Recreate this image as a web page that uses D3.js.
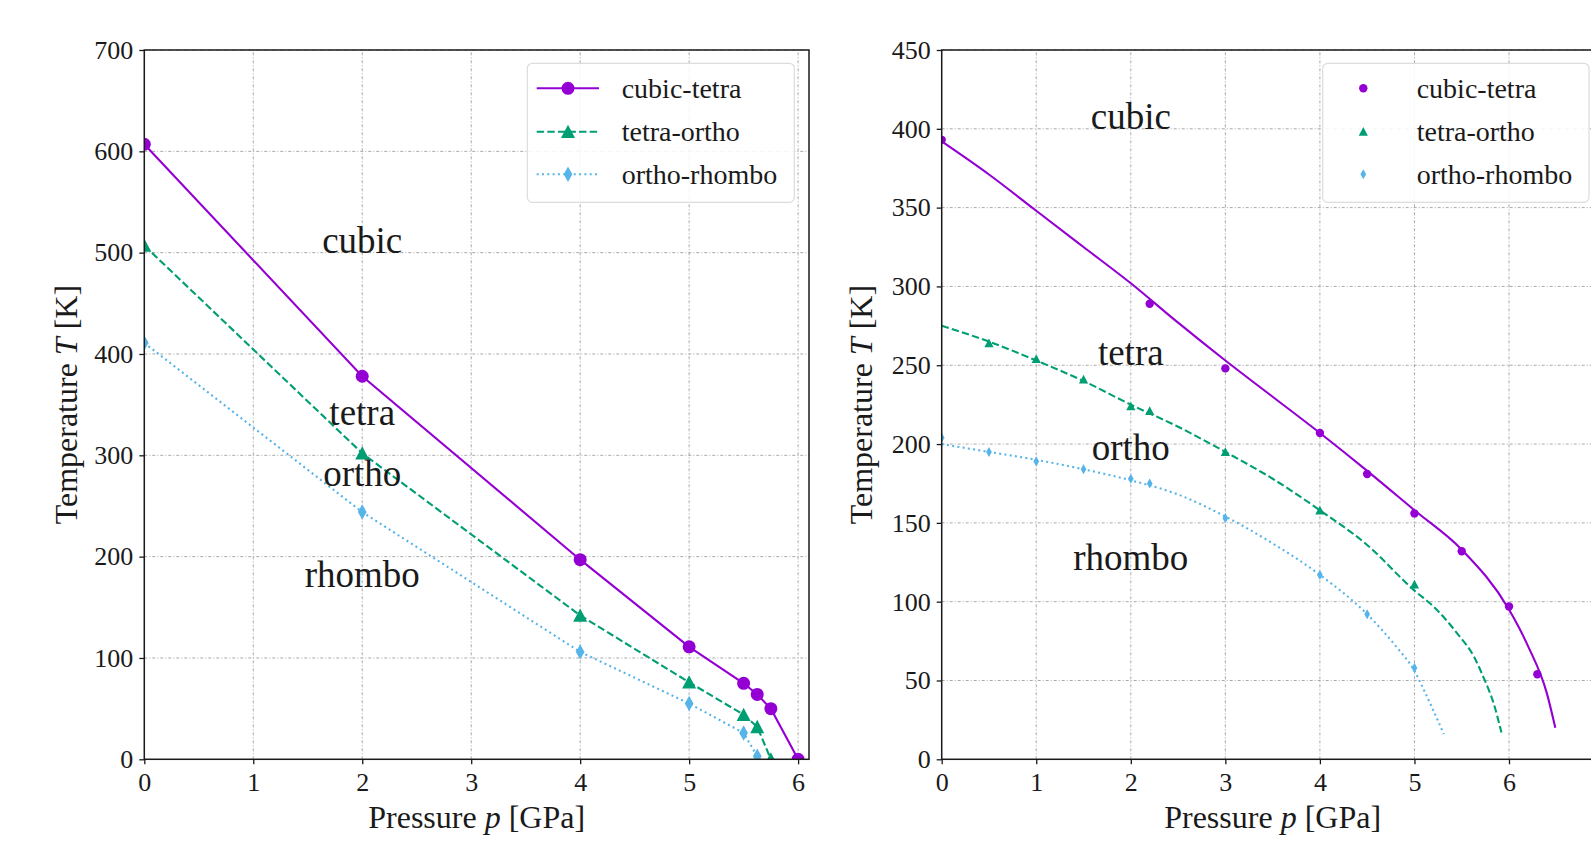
<!DOCTYPE html>
<html><head><meta charset="utf-8">
<script src="https://cdn.jsdelivr.net/npm/d3@7"></script>
<style>
body{margin:0;background:#fff}
svg{display:block}
text{font-family:"Liberation Serif","DejaVu Serif",serif;fill:#1a1a1a}
</style>
</head><body>
<svg id="c" width="1591" height="846"></svg>
<script>
// ---------- DATA ----------
const seriesNames = ["cubic-tetra", "tetra-ortho", "ortho-rhombo"];
const regionNames = ["cubic", "tetra", "ortho", "rhombo"];

// Left panel (markers joined by lines)
const leftXTicks = [0, 1, 2, 3, 4, 5, 6];
const leftYTicks = [0, 100, 200, 300, 400, 500, 600, 700];
const leftCubicP = [0, 2, 4, 5, 5.5, 5.625, 5.75, 6];
const leftCubicT = [607, 378, 197, 111, 75, 64, 50, 0];
const leftTetraP = [0, 2, 4, 5, 5.5, 5.625, 5.75];
const leftTetraT = [507, 302, 142, 76, 44, 32, 0];
const leftOrthoP = [0, 2, 4, 5, 5.5, 5.625];
const leftOrthoT = [411, 244, 106, 55, 26, 3];
const leftLabelP = [2, 2, 2, 2];
const leftLabelT = [500, 330, 270, 170];

// Right panel (scatter points + fitted curves)
const rightXTicks = [0, 1, 2, 3, 4, 5, 6];
const rightYTicks = [0, 50, 100, 150, 200, 250, 300, 350, 400, 450];
const rightCubicP = [0, 2.2, 3, 4, 4.5, 5, 5.5, 6, 6.3];
const rightCubicT = [393, 289, 248, 207, 181, 156, 132, 97, 54];
const rightTetraP = [0.5, 1, 1.5, 2, 2.2, 3, 4, 5];
const rightTetraT = [264, 254, 241, 224, 221, 195, 158, 111];
const rightOrthoP = [0, 0.5, 1, 1.5, 2, 2.2, 3, 4, 4.5, 5];
const rightOrthoT = [204, 195, 189, 184, 178, 175, 153, 117, 92, 58];
const fitCubicP = [0, 0.5, 1, 1.5, 2, 2.5, 3, 3.5, 4, 4.5, 5, 5.5, 6, 6.2, 6.4, 6.49];
const fitCubicT = [392, 371, 348, 325, 302, 277, 253, 230, 207, 183, 158, 133, 95, 72, 42, 20];
const fitTetraP = [0, 0.5, 1, 1.5, 2, 2.5, 3, 3.5, 4, 4.5, 5, 5.2, 5.45, 5.63, 5.73, 5.84, 5.92];
const fitTetraT = [275, 265, 253, 240, 225, 211, 195, 178, 158, 136, 107, 97, 80, 65, 52, 35, 17];
const fitOrthoP = [0, 0.5, 1, 1.5, 2, 2.5, 3, 3.5, 4, 4.5, 4.8, 5, 5.1, 5.2, 5.31];
const fitOrthoT = [200, 195, 190, 184, 177, 168, 154, 137, 117, 92, 72, 56, 44, 31, 16];
const rightLabelP = [2, 2, 2, 2];
const rightLabelT = [400, 250, 190, 120];

// ---------- STYLE ----------
const colors = ["#9400D3", "#009E73", "#56B4E9"];
const dashes = [null, "7.4,3.2", "2,3.3"];
const shapes = ["circle", "triangle", "diamond"];

const svg = d3.select("#c");
const TOP = 50, BOTTOM = 759.3;

function markerPath(shape, s) {
  const p = d3.path();
  if (shape === "circle") {
    p.moveTo(s, 0); p.arc(0, 0, s, 0, 2 * Math.PI);
  } else if (shape === "triangle") {
    p.moveTo(0, -s); p.lineTo(s, s * 0.9); p.lineTo(-s, s * 0.9); p.closePath();
  } else {
    const w = s * 0.62, h = s * 1.1;
    p.moveTo(0, -h); p.lineTo(w, 0); p.lineTo(0, h); p.lineTo(-w, 0); p.closePath();
  }
  return p.toString();
}

function drawPanel(cfg) {
  const g = svg.append("g");
  const x = d3.scaleLinear().domain(cfg.xDomain).range([cfg.left, cfg.right]);
  const y = d3.scaleLinear().domain(cfg.yDomain).range([BOTTOM, TOP]);

  // grid
  g.selectAll(null).data(cfg.xTicks).join("line")
    .attr("x1", d => x(d)).attr("x2", d => x(d)).attr("y1", BOTTOM).attr("y2", TOP)
    .attr("stroke", "#a8a8a8").attr("stroke-width", 1).attr("stroke-dasharray", "3,2,1,2");
  g.selectAll(null).data(cfg.yTicks).join("line")
    .attr("y1", d => y(d)).attr("y2", d => y(d)).attr("x1", cfg.left).attr("x2", cfg.right)
    .attr("stroke", "#a8a8a8").attr("stroke-width", 1).attr("stroke-dasharray", "3,2,1,2");

  const cid = "clip" + cfg.name;
  svg.append("clipPath").attr("id", cid).append("rect")
    .attr("x", cfg.left).attr("y", TOP).attr("width", cfg.right - cfg.left).attr("height", BOTTOM - TOP);
  const dg = g.append("g").attr("clip-path", `url(#${cid})`);

  const line = d3.line().x(d => x(d[0])).y(d => y(d[1]));
  if (cfg.curve) line.curve(d3.curveMonotoneX);

  cfg.lines.forEach((s, i) => {
    dg.append("path").datum(d3.zip(s[0], s[1])).attr("d", line)
      .attr("fill", "none").attr("stroke", colors[i]).attr("stroke-width", 2.1)
      .attr("stroke-dasharray", dashes[i]);
  });
  cfg.points.forEach((s, i) => {
    dg.selectAll(null).data(d3.zip(s[0], s[1])).join("path")
      .attr("transform", d => `translate(${x(d[0])},${y(d[1])})`)
      .attr("d", markerPath(shapes[i], cfg.msize[i]))
      .attr("fill", colors[i]);
  });

  // region labels
  g.selectAll(null).data(d3.zip(regionNames, cfg.labelP, cfg.labelT)).join("text")
    .attr("x", d => x(d[1])).attr("y", d => y(d[2]))
    .attr("text-anchor", "middle").attr("font-size", 37).text(d => d[0]);

  // spines
  g.append("rect").attr("x", cfg.left).attr("y", TOP)
    .attr("width", cfg.right - cfg.left).attr("height", BOTTOM - TOP)
    .attr("fill", "none").attr("stroke", "#1a1a1a").attr("stroke-width", 1.5);

  // axes
  const ax = g.append("g").attr("transform", `translate(0,${BOTTOM})`)
    .call(d3.axisBottom(x).tickValues(cfg.xTicks).tickFormat(d3.format("d")).tickSize(5).tickSizeOuter(0).tickPadding(8));
  const ay = g.append("g").attr("transform", `translate(${cfg.left},0)`)
    .call(d3.axisLeft(y).tickValues(cfg.yTicks).tickFormat(d3.format("d")).tickSize(5).tickSizeOuter(0).tickPadding(6));
  [ax, ay].forEach(a => {
    a.select(".domain").remove();
    a.selectAll("line").attr("stroke", "#1a1a1a").attr("stroke-width", 1.3);
    a.selectAll("text").attr("font-size", 26).attr("font-family", '"Liberation Serif",serif').attr("fill", "#1a1a1a");
  });

  // axis labels
  const xl = g.append("text").attr("x", (cfg.left + cfg.right) / 2).attr("y", 828)
    .attr("text-anchor", "middle").attr("font-size", 32);
  xl.append("tspan").text("Pressure ");
  xl.append("tspan").attr("font-style", "italic").text("p");
  xl.append("tspan").text(" [GPa]");
  const yl = g.append("text").attr("transform", `translate(${cfg.ylabelX},${(TOP + BOTTOM) / 2}) rotate(-90)`)
    .attr("text-anchor", "middle").attr("font-size", 32);
  yl.append("tspan").text("Temperature ");
  yl.append("tspan").attr("font-style", "italic").text("T");
  yl.append("tspan").text(" [K]");

  // legend
  const L = cfg.legend;
  const lg = g.append("g");
  lg.append("rect").attr("x", L.x).attr("y", L.y).attr("width", L.w).attr("height", L.h)
    .attr("rx", 5).attr("fill", "#fff").attr("fill-opacity", 0.85).attr("stroke", "#dcdcdc").attr("stroke-width", 1.2);
  const rows = [88.3, 131.7, 174.3];
  seriesNames.forEach((name, i) => {
    if (L.lines) {
      lg.append("line").attr("x1", L.lx0).attr("x2", L.lx1).attr("y1", rows[i]).attr("y2", rows[i])
        .attr("stroke", colors[i]).attr("stroke-width", 2.1).attr("stroke-dasharray", dashes[i]);
    }
    lg.append("path").attr("transform", `translate(${L.mx},${rows[i]})`)
      .attr("d", markerPath(shapes[i], cfg.msize[i])).attr("fill", colors[i]);
    lg.append("text").attr("x", L.tx).attr("y", rows[i]).attr("dy", "0.33em")
      .attr("font-size", 28).text(name);
  });
}

drawPanel({
  name: "L", left: 144.3, right: 809, xDomain: [0, 6.1], yDomain: [0, 700],
  xTicks: leftXTicks, yTicks: leftYTicks, curve: false,
  lines: [[leftCubicP, leftCubicT], [leftTetraP, leftTetraT], [leftOrthoP, leftOrthoT]],
  points: [[leftCubicP, leftCubicT], [leftTetraP, leftTetraT], [leftOrthoP, leftOrthoT]],
  msize: [6.5, 7, 7],
  labelP: leftLabelP, labelT: leftLabelT, ylabelX: 77,
  legend: { x: 527.3, y: 63.3, w: 267, h: 139, lines: true, lx0: 536.7, lx1: 599, mx: 568, tx: 621.7 }
});

drawPanel({
  name: "R", left: 941.7, right: 941.7 + 7 * 94.55, xDomain: [0, 7], yDomain: [0, 450],
  xTicks: rightXTicks, yTicks: rightYTicks, curve: true,
  lines: [[fitCubicP, fitCubicT], [fitTetraP, fitTetraT], [fitOrthoP, fitOrthoT]],
  points: [[rightCubicP, rightCubicT], [rightTetraP, rightTetraT], [rightOrthoP, rightOrthoT]],
  msize: [4.2, 4.6, 4.6],
  labelP: rightLabelP, labelT: rightLabelT, ylabelX: 872,
  legend: { x: 1322.7, y: 63.3, w: 266.3, h: 139, lines: false, mx: 1363.3, tx: 1416.7 }
});
</script>
</body></html>
